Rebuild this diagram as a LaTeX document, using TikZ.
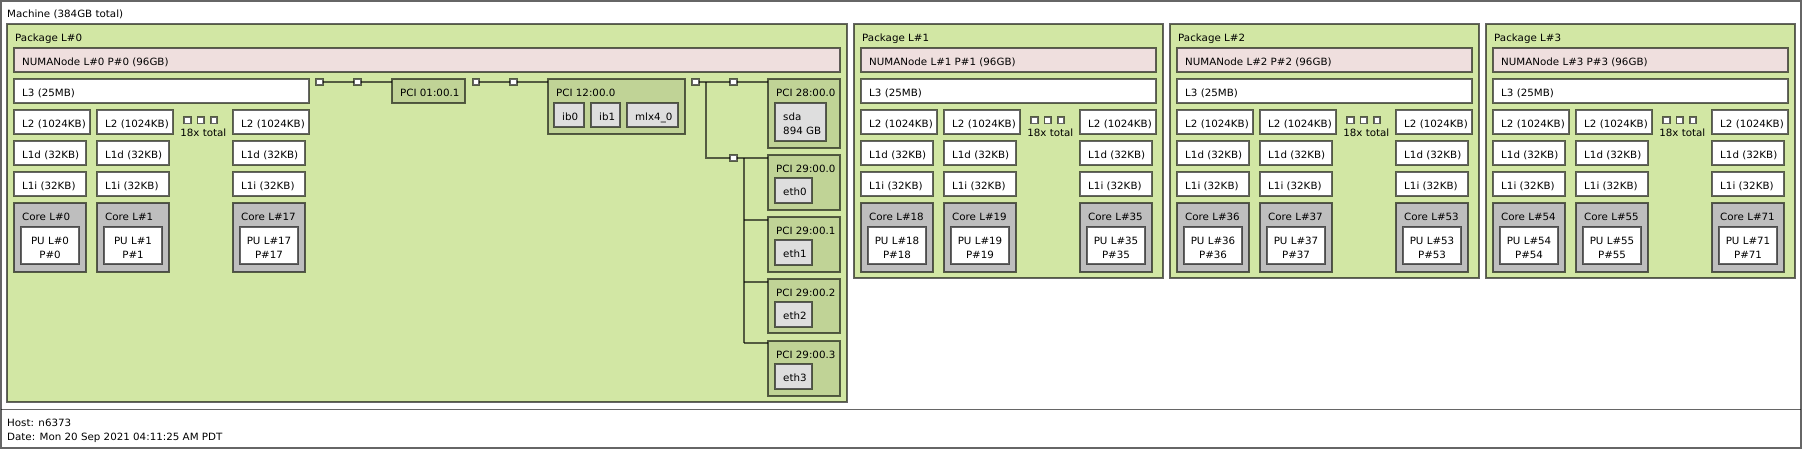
\documentclass[tikz,border=0pt]{standalone}
\usepackage{fontspec}
\setmainfont{DejaVu Sans}[FakeStretch=1.03]
\definecolor{pkgc}{RGB}{210,231,164}
\definecolor{numac}{RGB}{239,223,222}
\definecolor{corec}{RGB}{190,190,190}
\definecolor{pcic}{RGB}{192,211,150}
\definecolor{osc}{RGB}{222,222,222}
\tikzset{
 basebox/.style={draw=black, draw opacity=0.6, line width=1.6pt, inner sep=0pt, outer sep=0pt, rectangle},
 machine/.style={basebox, fill=white},
 package/.style={basebox, fill=pkgc},
 numa/.style={basebox, fill=numac},
 cache/.style={basebox, fill=white},
 core/.style={basebox, fill=corec},
 pu/.style={basebox, fill=white},
 pcidev/.style={basebox, fill=pcic},
 osdev/.style={basebox, fill=osc},
 sq/.style={basebox, fill=white, minimum size=6.5pt},
 link/.style={draw=black, draw opacity=0.6, line width=1.6pt},
 lbl/.style={anchor=base west, inner sep=0pt, font=\fontsize{10}{12}\selectfont},
 clbl/.style={anchor=base, inner sep=0pt, font=\fontsize{10}{12}\selectfont},
}
\newcommand\bx[7]{%
 \node[#6,anchor=north west,minimum width=#4,minimum height=#5] (#1) at ({#2},{#3}) {};
 \node[lbl] (#1t) at ({#2+8},{#3+17}) {#7};}
\newcommand\coremac[3]{%
 \bx{#1}{#2}{203}{72}{69}{core}{Core L\##3}
 \node[pu,anchor=north west,minimum width=58,minimum height=37] (#1pu) at ({#2+7},227) {};
 \node[clbl] (#1a) at ({#2+36},244) {PU L\##3};
 \node[clbl] (#1b) at ({#2+36},258) {P\##3};}
\newcommand\pkgbody[3]{%
 \pgfmathtruncatemacro\cA{#3}\pgfmathtruncatemacro\cB{#3+1}\pgfmathtruncatemacro\cC{#3+17}%
 \bx{lthree#1}{#2+7}{79}{295}{24}{cache}{L3 (25MB)}
 \bx{ltwoa#1}{#2+7}{110}{76}{24}{cache}{L2 (1024KB)}
 \bx{ltwob#1}{#2+90}{110}{76}{24}{cache}{L2 (1024KB)}
 \bx{ltwoc#1}{#2+226}{110}{76}{24}{cache}{L2 (1024KB)}
 \bx{lda#1}{#2+7}{141}{72}{24}{cache}{L1d (32KB)}
 \bx{ldb#1}{#2+90}{141}{72}{24}{cache}{L1d (32KB)}
 \bx{ldc#1}{#2+226}{141}{72}{24}{cache}{L1d (32KB)}
 \bx{lia#1}{#2+7}{172}{72}{24}{cache}{L1i (32KB)}
 \bx{lib#1}{#2+90}{172}{72}{24}{cache}{L1i (32KB)}
 \bx{lic#1}{#2+226}{172}{72}{24}{cache}{L1i (32KB)}
 \coremac{corea#1}{#2+7}{\cA}
 \coremac{coreb#1}{#2+90}{\cB}
 \coremac{corec#1}{#2+226}{\cC}
 \node[sq] (dota#1) at ({#2+180.5},120.3) {};
 \node[sq] (dotb#1) at ({#2+193.8},120.3) {};
 \node[sq] (dotc#1) at ({#2+207},120.3) {};
 \node[clbl] (tot#1) at ({#2+196.3},136) {18x total};}
\begin{document}
\begin{tikzpicture}[x=1pt,y=-1pt]
\useasboundingbox (0,0) rectangle (1802,448);
\node[machine,anchor=north west,minimum width=1800,minimum height=447] (machine) at (0.8,0.8) {};
\node[lbl] (machinet) at (7,17) {Machine (384GB total)};
\coordinate (sepa) at (0.8,409.5);
\coordinate (sepb) at (1800.8,409.5);
\draw[link] (sepa) -- (sepb);
\node[lbl] (host) at (7,426) {Host: n6373};
\node[lbl] (date) at (7,440) {Date: Mon 20 Sep 2021 04:11:25 AM PDT};
% Package 0
\bx{pkg0}{7}{24}{840}{378}{package}{Package L\#0}
\bx{numa0}{14}{48}{826}{24}{numa}{NUMANode L\#0 P\#0 (96GB)}
\pkgbody{0}{7}{0}
% other packages
\foreach \i/\px/\c in {1/854/18,2/1170/36,3/1486/54}{
 \bx{pkg\i}{\px}{24}{309}{254}{package}{Package L\#{\i}}
 \bx{numa\i}{\px+7}{48}{295}{24}{numa}{NUMANode L\#{\i} P\#{\i} (96GB)}
 \pkgbody{\i}{\px}{\c}
}
% PCI tree
\node[sq] (h1) at (319.5,82) {};
\node[sq] (h2) at (357.5,82) {};
\node[sq] (h3) at (476,82) {};
\node[sq] (h4) at (513.5,82) {};
\node[sq] (h5) at (695.5,82) {};
\node[sq] (h6) at (733.5,82) {};
\node[sq] (h7) at (733.5,158) {};
\bx{pci01}{392}{79}{73}{24}{pcidev}{PCI 01:00.1}
\bx{pci12}{548}{79}{137}{55}{pcidev}{PCI 12:00.0}
\bx{ib0}{554}{103}{30}{24}{osdev}{ib0}
\bx{ib1}{591}{103}{29}{24}{osdev}{ib1}
\bx{mlx}{627}{103}{51}{24}{osdev}{mlx4\_0}
\bx{pci28}{768}{79}{72}{69}{pcidev}{PCI 28:00.0}
\node[osdev,anchor=north west,minimum width=51,minimum height=38] (sda) at (775,103) {};
\node[lbl] (sdaa) at (783,120) {sda};
\node[lbl] (sdab) at (783,134) {894 GB};
\bx{pcia}{768}{155}{72}{55}{pcidev}{PCI 29:00.0}
\bx{eth0}{775}{178}{37}{25}{osdev}{eth0}
\bx{pcib}{768}{217}{72}{55}{pcidev}{PCI 29:00.1}
\bx{eth1}{775}{240}{37}{25}{osdev}{eth1}
\bx{pcic}{768}{279}{72}{54}{pcidev}{PCI 29:00.2}
\bx{eth2}{775}{302}{37}{25}{osdev}{eth2}
\bx{pcid}{768}{341}{72}{55}{pcidev}{PCI 29:00.3}
\bx{eth3}{775}{364}{37}{25}{osdev}{eth3}
\draw[link] (h1) -- (h2);
\draw[link] (h2) -- (h2 -| pci01.west);
\draw[link] (h3) -- (h4);
\draw[link] (h4) -- (h4 -| pci12.west);
\draw[link] (h5) -- (h6);
\draw[link] (h6) -- (h6 -| pci28.west);
\coordinate (ja) at (706,82);
\draw[link] (ja) -- (ja |- h7) -- (h7);
\draw[link] (h7) -- (h7 -| pcia.west);
\coordinate (jb) at (744,158);
\coordinate (jc) at (744,220);
\coordinate (jd) at (744,282);
\coordinate (je) at (744,343);
\draw[link] (jb) -- (je);
\draw[link] (jc) -- (jc -| pcib.west);
\draw[link] (jd) -- (jd -| pcic.west);
\draw[link] (je) -- (je -| pcid.west);
\end{tikzpicture}
\end{document}
